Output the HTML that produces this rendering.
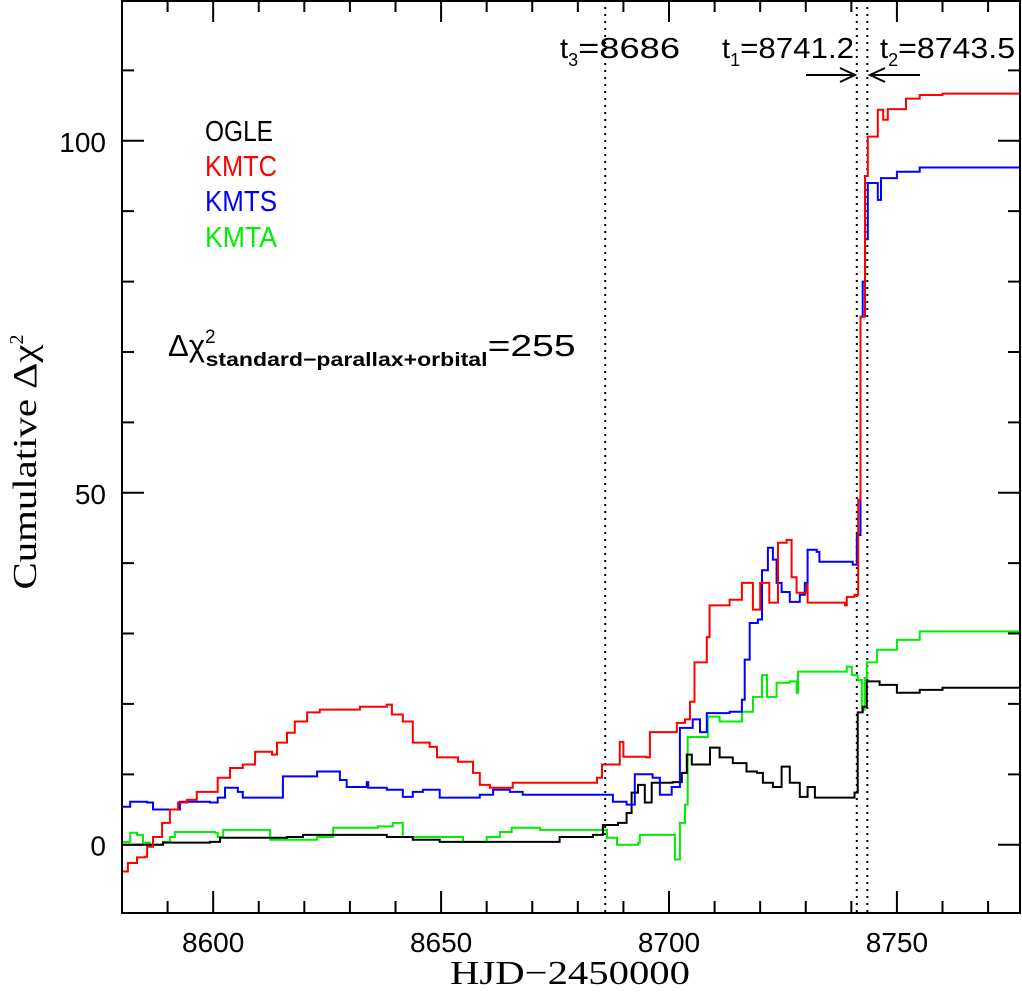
<!DOCTYPE html>
<html><head><meta charset="utf-8"><style>
html,body{margin:0;padding:0;background:#fff;}
svg{display:block;}
text{font-family:"Liberation Sans",sans-serif;}
</style></head><body>
<svg id="chart" width="1022" height="994" viewBox="0 0 1022 994" xmlns="http://www.w3.org/2000/svg">
<g id="series"></g>
<g id="axes"></g>
<g font-size="29">
<text x="205" y="141" fill="#000" textLength="68" lengthAdjust="spacingAndGlyphs">OGLE</text>
<text x="205" y="176" fill="#ff0000" textLength="72" lengthAdjust="spacingAndGlyphs">KMTC</text>
<text x="205" y="211" fill="#0000ff" textLength="72" lengthAdjust="spacingAndGlyphs">KMTS</text>
<text x="205" y="247" fill="#00ee00" textLength="72" lengthAdjust="spacingAndGlyphs">KMTA</text>
</g>
<text x="168" y="356" font-size="31">Δχ<tspan font-size="19" dy="-13">2</tspan><tspan font-size="19" font-weight="bold" dx="-10" dy="23" textLength="282" lengthAdjust="spacingAndGlyphs">standard−parallax+orbital</tspan><tspan dy="-10" textLength="88" lengthAdjust="spacingAndGlyphs">=255</tspan></text>
<g font-size="29">
<text x="560" y="58">t<tspan font-size="18" dy="8">3</tspan><tspan dy="-8" textLength="102" lengthAdjust="spacingAndGlyphs">=8686</tspan></text>
<text x="722" y="58">t<tspan font-size="18" dy="8">1</tspan><tspan dy="-8" textLength="114" lengthAdjust="spacingAndGlyphs">=8741.2</tspan></text>
<text x="880" y="58">t<tspan font-size="18" dy="8">2</tspan><tspan dy="-8" textLength="117" lengthAdjust="spacingAndGlyphs">=8743.5</tspan></text>
<g stroke="#000" stroke-width="2" fill="none">
<path d="M806 75 H855 M840 68 L855 75 L840 82"/>
<path d="M920 75 H870 M885 68 L870 75 L885 82"/>
</g>
</g>
<text x="570" y="984" font-size="34" text-anchor="middle" textLength="240" lengthAdjust="spacingAndGlyphs" style="font-family:'Liberation Serif',serif">HJD−2450000</text>
<text transform="translate(36,462) rotate(-90)" font-size="34" text-anchor="middle" style="font-family:'Liberation Serif',serif"><tspan textLength="245" lengthAdjust="spacingAndGlyphs">Cumulative Δχ</tspan><tspan font-size="20" dy="-13">2</tspan></text>
</svg>
<script>
const ogleDays=[8580.2,8589,8599.3,8601.5,8608.7,8616.2,8619.7,8638.1,8643.8,8649.7,8673.9,8676,8683.3,8685.5,8686,8688.8,8690.7,8691.8,8693.2,8694.7,8696.2,8700.8,8702.8,8703.9,8705,8708.5,8709,8711.1,8714,8717,8719.3,8720.6,8722.8,8724.7,8726.5,8728.7,8730.4,8732,8737.5,8740.7,8741.4,8742.5,8743.4,8746.2,8750,8755,8760,8777];
const ogleVals=[0,0.3,0.4,1,1,1.1,1.4,1.1,0.7,0.4,0.4,1.1,1.4,2.8,2.8,3.1,4.5,7.4,8.5,6,8.8,8.9,10.2,12.8,11.4,11.4,13.8,12.4,11.6,10.4,10.2,8.8,8.2,11.1,8.8,6.8,8.2,6.7,6.7,7.4,18.8,19.6,23.2,22.7,21.6,22,22.3,22.3];
const kmtcDays=[8580.2,8581.3,8583.3,8585,8585.5,8586.8,8588.8,8590.5,8592.3,8594.3,8596.4,8599.3,8601,8603.7,8606.5,8609.2,8611.8,8612.9,8614,8616.2,8617.9,8620.6,8623.4,8630.7,8632.2,8635,8638.1,8639.2,8641.6,8643.8,8647.5,8649.1,8653.7,8657,8658.5,8660.7,8665.7,8682,8684.2,8685.3,8689.2,8690,8695,8695.8,8701.7,8703.5,8704.6,8705.6,8708.3,8708.9,8713.3,8716,8718.4,8720,8722,8723.9,8725.8,8726.9,8728,8730.2,8730.4,8738.6,8739,8740.7,8741.5,8742,8743,8743.6,8745.8,8747,8748,8752,8755,8760,8777];
const kmtcVals=[-3.8,-2.6,-1.8,-1.7,-0.3,1.1,3.1,5,6,6.4,7.5,7.5,9.5,10.9,11.4,13.2,13.2,12.8,14.5,15.9,17.5,18.8,19.2,19.2,19.6,19.6,19.9,18.5,17.5,14.5,13.9,12.4,11.8,10.2,8.5,8.1,8.8,8.8,9.5,11.4,14.6,12.5,12.4,16,17.3,17.8,20.3,25.9,29.5,34,34.8,37.2,33.4,37.2,34.4,42.9,43.3,38,35.8,36.9,34.4,34,35.2,35.5,49,75,95,100.6,104.4,103,104.5,106,106.5,106.7,106.7];
const kmtsDays=[8580.2,8581.8,8585.5,8586.8,8591.6,8592.7,8599.3,8601,8602.6,8605.4,8606.5,8613.6,8615.3,8620.6,8622.8,8626.3,8627.8,8629.3,8633.7,8634,8638.1,8641.6,8643.8,8646,8648.2,8649.7,8658.5,8661.4,8665.1,8667.9,8686,8687.7,8690.7,8692.5,8696.4,8698,8700.6,8702.4,8705.2,8706.8,8708.3,8713.3,8716,8716.6,8717.7,8719.5,8720.4,8721.7,8722.8,8723.6,8724.7,8726.5,8728.7,8729.8,8730.4,8732.4,8733,8735.9,8740.3,8741.2,8742,8742.5,8743,8743.6,8745.8,8746.5,8750,8755,8777];
const kmtsVals=[5.4,6.1,6,5,5,6.1,6,6.7,8.1,7.5,6.7,6.7,9.7,9.7,10.4,10.4,9.2,8.2,8.9,8.1,7.8,6.8,7.5,7.8,7.8,6.7,7.1,7.8,7.5,7.1,7.1,6.1,5.7,10,9.5,7.1,8.2,16.6,17.8,16,18.7,18.9,20.6,26.3,31.5,32,39,42.2,40.5,37.2,35.9,34.5,35.5,37.2,41.9,41.6,40.2,40.2,39.8,44,75,80,86,94,91.6,94.7,95.6,96.2,96];
const kmtaDays=[8580.2,8581.8,8583.3,8584.6,8586.1,8589,8590.5,8591.6,8600.4,8601,8602.2,8610.3,8612.5,8619,8622.8,8626.3,8632.2,8636.1,8639.4,8641.4,8641.6,8650.4,8654.8,8660,8662.9,8665.5,8671.7,8684.8,8686.4,8688.6,8693.2,8693.6,8700.2,8701.3,8702.4,8703.5,8704.1,8708.3,8708.5,8711.1,8716,8718.4,8720.4,8721.5,8723.6,8726.5,8728,8728.3,8732.4,8739,8740.1,8741.4,8742.3,8742.9,8743.4,8745.6,8750,8755,8777];
const kmtaVals=[0.4,1.7,1.4,0.3,0,0.4,1.1,1.8,1.7,1.1,2.1,2.1,0.7,0.7,1.1,2.4,2.4,2.6,3.1,3.1,1.1,1.1,0.4,1.1,1.8,2.4,2.1,2.1,1,0,0.3,1.4,1.4,-2.1,3.1,5.7,15.3,15.3,18.2,17.5,18.9,21,24.1,21,23,23.2,21.6,24.6,24.6,25.3,24.1,23.4,19.2,23.7,25.9,27.7,29.1,30.3,30.7];
const xTicks=[8600,8650,8700,8750];
const yTicks=[0,50,100];
const markerDays=[8686,8741.2,8743.5];

const X0=122,X1=1020,Y0=0,Y1=913;
const xMin=8580,xMax=8777,yMin=-9.7,yMax=120;
function xs(v){return X0+(v-xMin)/(xMax-xMin)*(X1-X0);}
function ys(v){return Y1-(v-yMin)/(yMax-yMin)*(Y1-Y0);}
const NS="http://www.w3.org/2000/svg";
const sg=document.getElementById('series');
const ag=document.getElementById('axes');
function mk(tag,attrs,parent){const e=document.createElementNS(NS,tag);for(const k in attrs)e.setAttribute(k,attrs[k]);parent.appendChild(e);return e;}

markerDays.forEach(function(d){
  const l=mk('line',{x1:xs(d),x2:xs(d),y1:Y0,y2:Y1,stroke:'#000','stroke-width':2,'stroke-dasharray':'2,5'},sg);
  
  
});
function drawSeries(days,vals,color,name){
  let d='';
  for(let i=0;i<days.length;i++){
    const px=xs(days[i]).toFixed(1),py=ys(vals[i]).toFixed(1);
    if(i===0)d+='M'+px+' '+py;else d+=' H'+px+' V'+py;
  }
  const p=mk('path',{d:d,fill:'none',stroke:color,'stroke-width':2},sg);
  
  
}
drawSeries(kmtaDays,kmtaVals,'#00ee00','kmta-line');
drawSeries(ogleDays,ogleVals,'#000000','ogle-line');
drawSeries(kmtsDays,kmtsVals,'#0000ff','kmts-line');
drawSeries(kmtcDays,kmtcVals,'#ff0000','kmtc-line');

const frame=mk('rect',{x:X0,y:Y0+1,width:X1-X0,height:Y1-Y0-1,fill:'none',stroke:'#000','stroke-width':2},ag);


let tp='';
for(let v=8580;v<=8777;v+=10){
  const len=(v%50===0)?22:12;const px=xs(v);
  tp+='M'+px+' '+Y1+' V'+(Y1-len)+' M'+px+' '+Y0+' V'+(Y0+len)+' ';
}
for(let v=0;v<=120;v+=10){
  const len=(v%50===0)?22:12;const py=ys(v);
  tp+='M'+X0+' '+py+' H'+(X0+len)+' M'+X1+' '+py+' H'+(X1-len)+' ';
}
const tk=mk('path',{d:tp,stroke:'#000','stroke-width':2,fill:'none'},ag);


xTicks.forEach(function(v){
  const t=mk('text',{x:xs(v),y:952,'font-size':28,'text-anchor':'middle'},ag);
  t.textContent=v;
  
  
});
yTicks.forEach(function(v){
  const t=mk('text',{x:106,y:ys(v)+11,'font-size':28,'text-anchor':'end'},ag);
  t.textContent=v;
  
  
});
</script>
</body></html>
